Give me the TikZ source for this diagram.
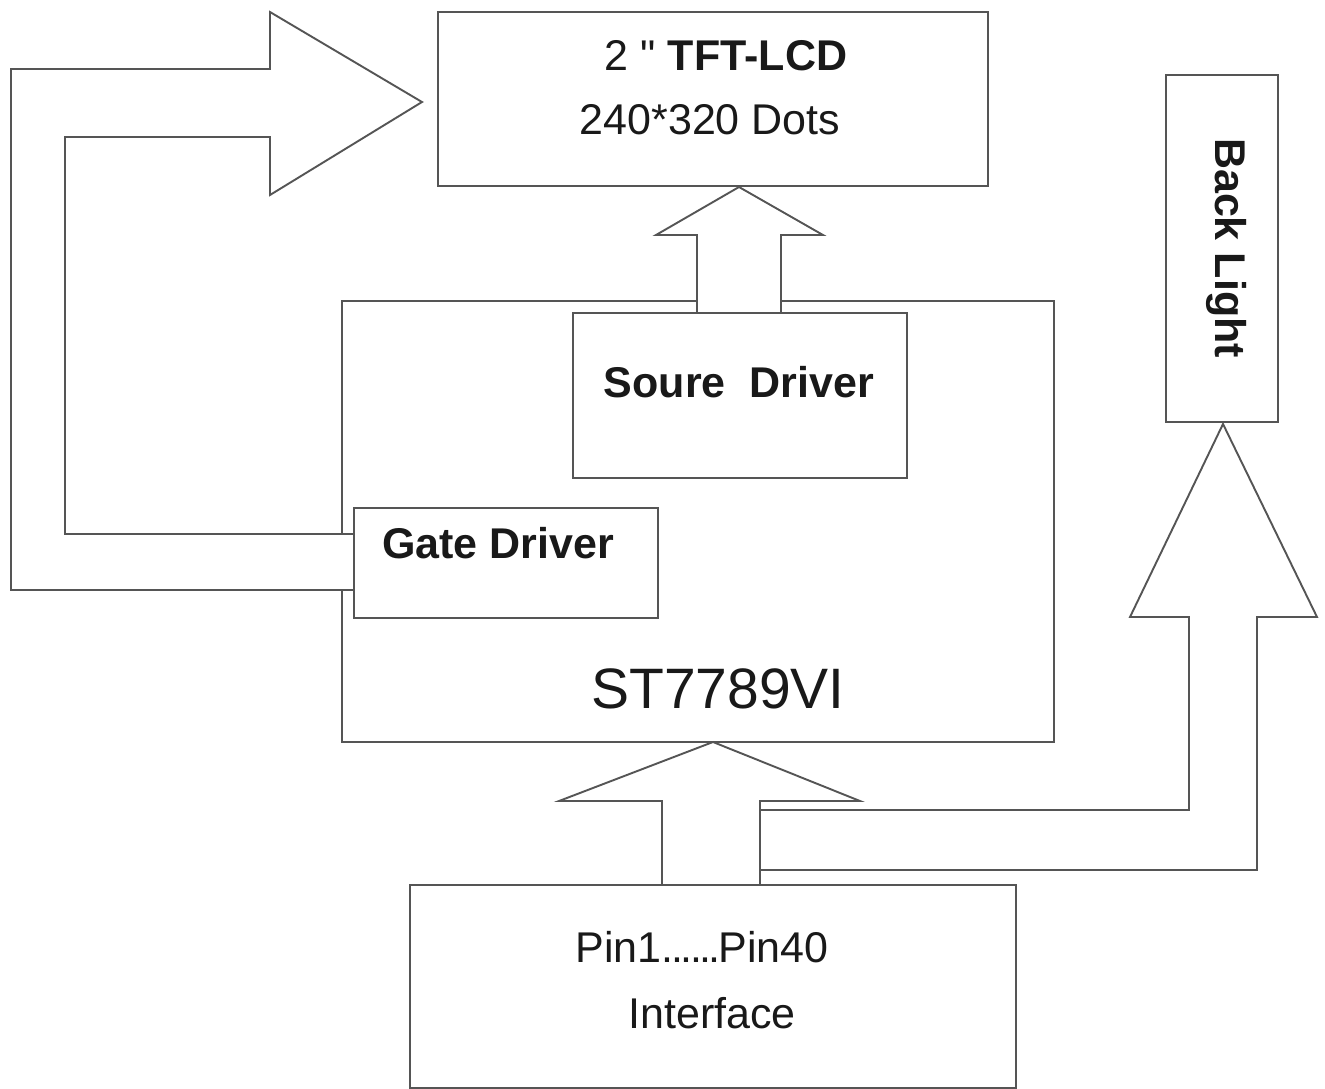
\documentclass[tikz,border=0pt]{standalone}
\usepackage{fontspec}
\setmainfont{Liberation Sans}
\newfontfamily\qfont{Liberation Sans}
\definecolor{linegray}{RGB}{85,85,85}
\definecolor{textblack}{RGB}{25,25,25}
\newcommand{\tightdot}{.\kern-2.5pt}
\tikzset{
  ln/.style={draw=linegray, line width=1.9pt, line join=miter},
  box/.style={ln, rectangle, inner sep=0pt, anchor=north west},
  lbl/.style={text=textblack, inner sep=0pt, anchor=base, font=\fontsize{43}{50}\selectfont},
  blbl/.style={lbl, font=\fontsize{43}{50}\selectfont\bfseries},
}
\begin{document}
\begin{tikzpicture}[x=1pt,y=-1pt]
\fill[white] (0,0) rectangle (1325,1088);
\useasboundingbox (0,0) rectangle (1325,1088);

% boxes
\node[box, minimum width=550pt, minimum height=174pt] (tft) at (437,11) {};
\node[box, minimum width=334pt, minimum height=165pt] (src) at (572,312) {};
\node[box, minimum width=304pt, minimum height=110pt] (gate) at (353,507) {};
\node[box, minimum width=112pt, minimum height=347pt] (bl) at (1165,74) {};
\node[box, minimum width=606pt, minimum height=203pt] (intf) at (409,884) {};

% ST7789VI outline (open where the arrows pass)
\draw[ln] (697,301) -- (342,301) -- (342,534);
\draw[ln] (342,590) -- (342,742) -- (1054,742) -- (1054,301) -- (781,301);

% labels
\node[lbl] (t1) at (726,70) {2 {\qfont"} \textbf{TFT-LCD}};
\node[lbl] (t2) at (710,134) {240*320 Dots};
\node[blbl] (t3) at (739,397) {Soure\ \ Driver};
\node[blbl] (t4) at (498,558) {Gate Driver};
\node[lbl, font=\fontsize{57}{64}\selectfont] (t5) at (718,708) {ST7789VI};
\node[blbl, rotate=-90] (t6) at (1215,248) {Back Light};
\node[lbl] (t7) at (702,962) {Pin1\tightdot\tightdot\tightdot\tightdot\tightdot\tightdot Pin40};
\node[lbl] (t8) at (712,1028) {Interface};

% Gate driver -> TFT block arrow
\coordinate (g1) at (gate.west |- 0,590);
\coordinate (g2) at (gate.west |- 0,534);
\draw[ln] (g1) -- (11,590) -- (11,69) -- (270,69) -- (270,12) -- (422,102)
  -- (270,195) -- (270,137) -- (65,137) -- (65,534) -- (g2);

% Source driver -> TFT block arrow
\coordinate (s1) at (697,312);
\coordinate (s2) at (781,312);
\draw[ln] (s1) -- (697,235) -- (656,235) -- (739,187) -- (823,235) -- (781,235) -- (s2);

% Interface -> ST7789VI block arrow
\coordinate (i1) at (662,884);
\coordinate (i2) at (760,884);
\draw[ln] (i1) -- (662,801) -- (559,801) -- (713,742) -- (860,801) -- (760,801) -- (i2);

% Interface -> Back Light block arrow
\draw[ln] (760,810) -- (1189,810) -- (1189,617) -- (1130,617) -- (1223,424)
  -- (1317,617) -- (1257,617) -- (1257,870) -- (760,870);
\end{tikzpicture}
\end{document}
